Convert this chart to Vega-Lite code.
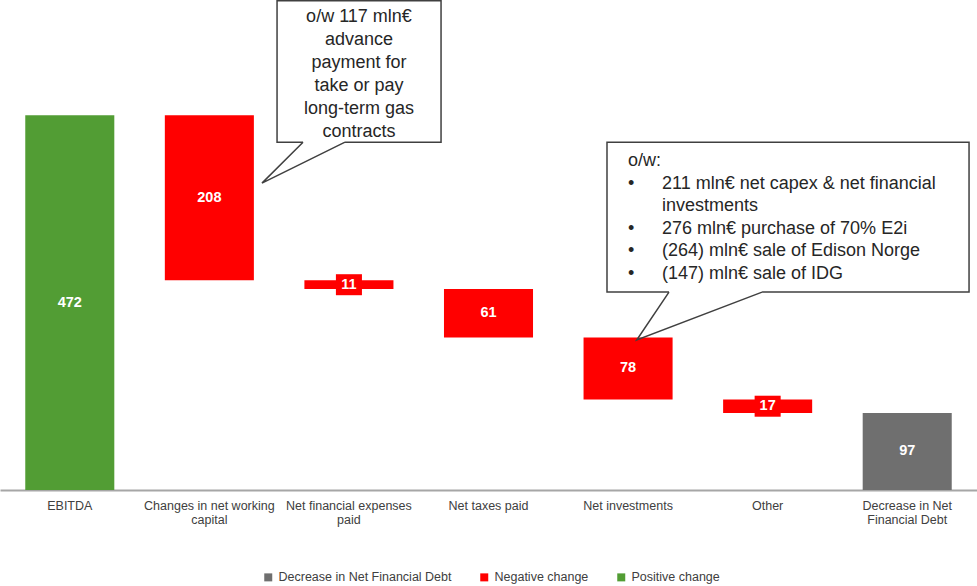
{
  "$schema": "https://vega.github.io/schema/vega-lite/v6.json",
  "width": 977,
  "height": 490,
  "padding": 0,
  "autosize": {"type": "pad"},
  "config": {"view": {"stroke": null}, "font": "Liberation Sans"},
  "datasets": {
    "bars": [
      {"cat": "EBITDA", "start": 0, "end": 472, "value": 472, "type": "Positive change", "small": false},
      {"cat": "Changes in net working|capital", "start": 472, "end": 264, "value": 208, "type": "Negative change", "small": false},
      {"cat": "Net financial expenses|paid", "start": 264, "end": 253, "value": 11, "type": "Negative change", "small": true},
      {"cat": "Net taxes paid", "start": 253, "end": 192, "value": 61, "type": "Negative change", "small": false},
      {"cat": "Net investments", "start": 192, "end": 114, "value": 78, "type": "Negative change", "small": false},
      {"cat": "Other", "start": 114, "end": 97, "value": 17, "type": "Negative change", "small": true},
      {"cat": "Decrease in Net|Financial Debt", "start": 97, "end": 0, "value": 97, "type": "Decrease in Net Financial Debt", "small": false}
    ],
    "boxes": [
      {"x": 1.485, "x2": 2.66, "y": 616, "y2": 438},
      {"x": 3.849, "x2": 6.443, "y": 438, "y2": 249.2}
    ],
    "covers": [
      {"x": 1.671, "x2": 1.972, "y": 438},
      {"x": 4.293, "x2": 4.96, "y": 249.2}
    ],
    "pointers": [
      {"g": "a", "o": 1, "x": 1.671, "y": 438},
      {"g": "a", "o": 2, "x": 1.377, "y": 386.4},
      {"g": "a", "o": 3, "x": 1.972, "y": 438},
      {"g": "b", "o": 1, "x": 4.293, "y": 249.2},
      {"g": "b", "o": 2, "x": 4.062, "y": 188.8},
      {"g": "b", "o": 3, "x": 4.96, "y": 249.2}
    ],
    "notesCenter": [
      {"x": 2.072, "y": 589, "text": "o/w 117 mln€\nadvance\npayment for\ntake or pay\nlong-term gas\ncontracts"}
    ],
    "notesLeft": [
      {"x": 4.0, "y": 407.8, "text": "o/w:"},
      {"x": 4.0, "y": 379.5, "text": "•"},
      {"x": 4.0, "y": 322.9, "text": "•\n•\n•"},
      {"x": 4.243, "y": 379.5, "text": "211 mln€ net capex & net financial\ninvestments\n276 mln€ purchase of 70% E2i\n(264) mln€ sale of Edison Norge\n(147) mln€ sale of IDG"}
    ]
  },
  "layer": [
    {
      "data": {"name": "bars"},
      "mark": {"type": "bar"},
      "encoding": {
        "x": {
          "field": "cat", "type": "nominal", "sort": null,
          "scale": {"paddingInner": 0.362, "paddingOuter": 0.181},
          "axis": {
            "title": null, "labelAngle": 0, "ticks": false,
            "domainColor": "#a6a6a6", "domainWidth": 2,
            "labelColor": "#404040", "labelFontSize": 12.5, "labelPadding": 9,
            "labelLineHeight": 14, "labelExpr": "split(datum.label, '|')", "labelLimit": 200
          }
        },
        "y": {"field": "start", "type": "quantitative", "scale": {"domain": [0, 617], "nice": false}, "axis": null},
        "y2": {"field": "end"},
        "color": {
          "field": "type", "type": "nominal",
          "scale": {
            "domain": ["Decrease in Net Financial Debt", "Negative change", "Positive change"],
            "range": ["#6f6f6f", "#ff0000", "#529d34"]
          },
          "legend": {
            "title": null, "orient": "none", "legendX": 262, "legendY": 571,
            "direction": "horizontal", "symbolType": "square", "symbolSize": 64,
            "symbolStrokeWidth": 0, "labelFontSize": 12.5, "labelColor": "#404040",
            "columnPadding": 26, "labelOffset": 4, "labelLimit": 400
          }
        }
      }
    },
    {
      "data": {"name": "bars"},
      "transform": [
        {"calculate": "(datum.start + datum.end) / 2", "as": "mid"}
      ],
      "mark": {"type": "point", "shape": "M-1.24,-1L1.24,-1L1.24,1L-1.24,1Z", "size": 441, "filled": true, "color": "#ff0000"},
      "encoding": {
        "x": {"field": "cat", "type": "nominal", "sort": null, "scale": {"paddingInner": 0.362, "paddingOuter": 0.181}, "axis": null},
        "y": {"field": "mid", "type": "quantitative", "scale": {"domain": [0, 617], "nice": false}, "axis": null},
        "opacity": {"condition": {"test": "datum.small", "value": 1}, "value": 0}
      }
    },
    {
      "data": {"name": "bars"},
      "transform": [{"calculate": "(datum.start + datum.end) / 2", "as": "mid"}],
      "mark": {"type": "text", "color": "white", "fontWeight": "bold", "fontSize": 14.5, "baseline": "middle"},
      "encoding": {
        "x": {"field": "cat", "type": "nominal", "sort": null, "scale": {"paddingInner": 0.362, "paddingOuter": 0.181}, "axis": null},
        "y": {"field": "mid", "type": "quantitative", "scale": {"domain": [0, 617], "nice": false}, "axis": null},
        "text": {"field": "value", "type": "quantitative"}
      }
    },
    {
      "data": {"name": "boxes"},
      "mark": {"type": "rect", "fill": "white", "stroke": "#404040", "strokeWidth": 1.5},
      "encoding": {
        "x": {"field": "x", "type": "quantitative", "scale": {"domain": [-0.5, 6.5], "nice": false, "zero": false}, "axis": null},
        "x2": {"field": "x2"},
        "y": {"field": "y", "type": "quantitative", "scale": {"domain": [0, 617], "nice": false}, "axis": null},
        "y2": {"field": "y2"}
      }
    },
    {
      "data": {"name": "covers"},
      "mark": {"type": "rule", "color": "white", "strokeWidth": 3},
      "encoding": {
        "x": {"field": "x", "type": "quantitative", "scale": {"domain": [-0.5, 6.5], "nice": false, "zero": false}, "axis": null},
        "x2": {"field": "x2"},
        "y": {"field": "y", "type": "quantitative", "scale": {"domain": [0, 617], "nice": false}, "axis": null}
      }
    },
    {
      "data": {"name": "pointers"},
      "mark": {"type": "line", "color": "#404040", "strokeWidth": 1.5},
      "encoding": {
        "x": {"field": "x", "type": "quantitative", "scale": {"domain": [-0.5, 6.5], "nice": false, "zero": false}, "axis": null},
        "y": {"field": "y", "type": "quantitative", "scale": {"domain": [0, 617], "nice": false}, "axis": null},
        "detail": {"field": "g", "type": "nominal"},
        "order": {"field": "o", "type": "quantitative"}
      }
    },
    {
      "data": {"name": "notesCenter"},
      "mark": {"type": "text", "fontSize": 18, "lineHeight": 23, "lineBreak": "\n", "baseline": "alphabetic", "align": "center", "color": "#262626"},
      "encoding": {
        "x": {"field": "x", "type": "quantitative", "scale": {"domain": [-0.5, 6.5], "nice": false, "zero": false}, "axis": null},
        "y": {"field": "y", "type": "quantitative", "scale": {"domain": [0, 617], "nice": false}, "axis": null},
        "text": {"field": "text", "type": "nominal"}
      }
    },
    {
      "data": {"name": "notesLeft"},
      "mark": {"type": "text", "fontSize": 18, "lineHeight": 22.5, "lineBreak": "\n", "baseline": "alphabetic", "align": "left", "color": "#262626"},
      "encoding": {
        "x": {"field": "x", "type": "quantitative", "scale": {"domain": [-0.5, 6.5], "nice": false, "zero": false}, "axis": null},
        "y": {"field": "y", "type": "quantitative", "scale": {"domain": [0, 617], "nice": false}, "axis": null},
        "text": {"field": "text", "type": "nominal"}
      }
    }
  ],
  "resolve": {"scale": {"x": "independent"}, "axis": {"x": "independent"}}
}
